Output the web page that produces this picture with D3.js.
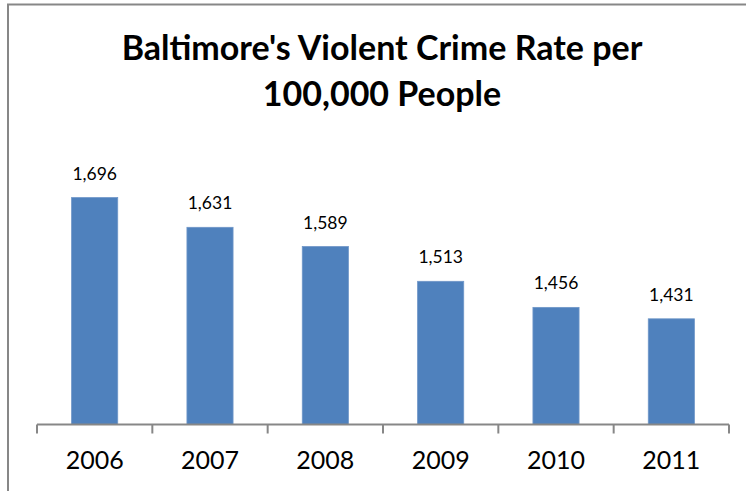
<!DOCTYPE html>
<html>
<head>
<meta charset="utf-8">
<script src="https://cdn.jsdelivr.net/npm/d3@7"></script>
<style>
  html, body { margin: 0; padding: 0; background: #fff; }
  svg { display: block; }
  text { font-family: Lato, "Open Sans", sans-serif; fill: #000; }
</style>
</head>
<body>
<svg id="chart" width="746" height="491"></svg>
<script>
// Baltimore violent crime rate per 100,000 people
const years = ["2006", "2007", "2008", "2009", "2010", "2011"];
const rates = [1696, 1631, 1589, 1513, 1456, 1431];
const titleLines = ["Baltimore's Violent Crime Rate per", "100,000 People"];

const W = 746, H = 491;
const margin = { left: 37, right: 17, top: 150, bottom: 66.5 };

const svg = d3.select("#chart");

// outer chart frame
svg.append("rect")
  .attr("x", 8).attr("y", 4.5)
  .attr("width", W + 20).attr("height", H + 20)
  .attr("fill", "none")
  .attr("stroke", "#878787")
  .attr("stroke-width", 2);

const x = d3.scaleBand()
  .domain(years)
  .range([margin.left, W - margin.right])
  .paddingInner(0.6)
  .paddingOuter(0.3);

const y = d3.scaleLinear()
  .domain([1200, 1800])
  .range([H - margin.bottom, margin.top]);

const rows = years.map((yr, i) => ({ yr, v: rates[i] }));

// bars
svg.append("g").selectAll("rect")
  .data(rows)
  .join("rect")
  .attr("x", d => x(d.yr))
  .attr("y", d => y(d.v))
  .attr("width", x.bandwidth())
  .attr("height", d => y(1200) - y(d.v))
  .attr("fill", "#4F81BD")
  .attr("stroke", "#6f96c8")
  .attr("stroke-width", 0.8);

// value labels
const fmt = d3.format(",");
svg.append("g").selectAll("text")
  .data(rows)
  .join("text")
  .attr("x", d => x(d.yr) + x.bandwidth() / 2)
  .attr("y", d => y(d.v) - 18)
  .attr("text-anchor", "middle")
  .style("font-size", "17.5px")
  .text(d => fmt(d.v));

// category axis with boundary ticks between bands
const step = x.step();
const tickPositions = d3.range(years.length + 1).map(i => margin.left + i * step);
const axisG = svg.append("g");
axisG.append("line")
  .attr("x1", margin.left).attr("x2", W - margin.right)
  .attr("y1", y(1200)).attr("y2", y(1200))
  .attr("stroke", "#878787").attr("stroke-width", 2);
axisG.selectAll("line.tick")
  .data(tickPositions)
  .join("line")
  .attr("class", "tick")
  .attr("x1", d => d).attr("x2", d => d)
  .attr("y1", y(1200)).attr("y2", y(1200) + 9)
  .attr("stroke", "#878787").attr("stroke-width", 2);
axisG.selectAll("text")
  .data(years)
  .join("text")
  .attr("x", d => x(d) + x.bandwidth() / 2)
  .attr("y", 469)
  .attr("text-anchor", "middle")
  .style("font-size", "25px")
  .text(d => d);

// title
svg.append("g").selectAll("text")
  .data(titleLines)
  .join("text")
  .attr("x", 382)
  .attr("y", (d, i) => 60 + i * 46)
  .attr("text-anchor", "middle")
  .style("font-size", "34px")
  .style("font-weight", "bold")
  .text(d => d);
</script>
</body>
</html>
